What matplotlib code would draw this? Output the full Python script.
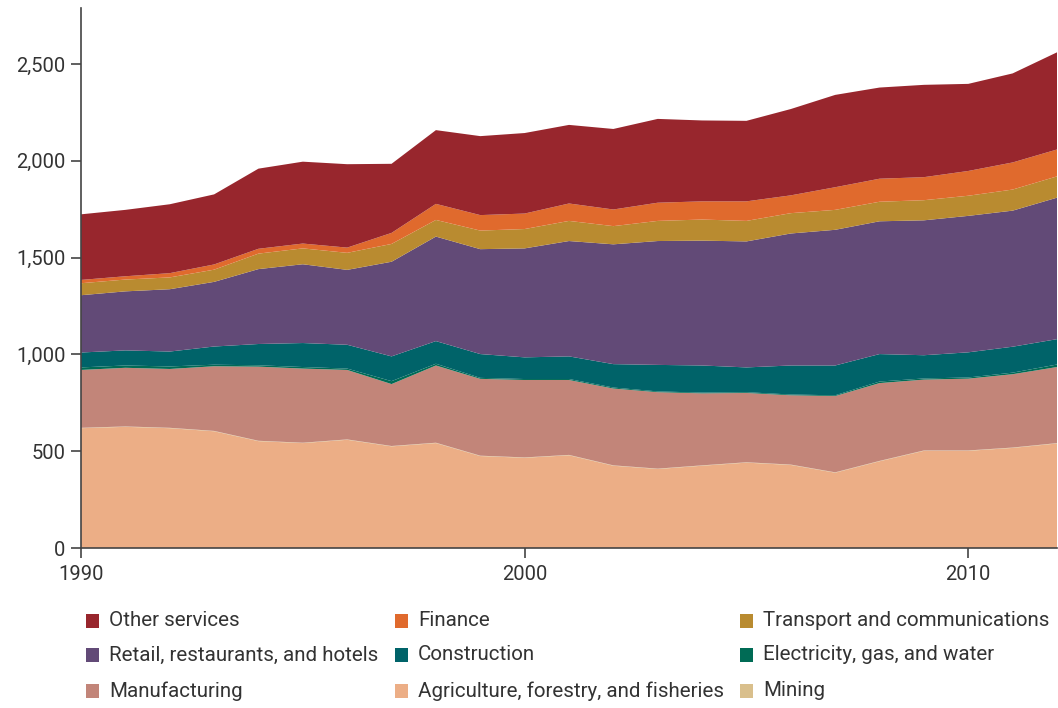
import matplotlib
matplotlib.use("Agg")
import matplotlib.pyplot as plt
from matplotlib.patches import Rectangle

years = list(range(1990, 2013))

agriculture = [619, 626, 619, 603, 552, 542, 559, 525, 542, 475, 466, 479,
               425, 408, 425, 441, 429, 389, 448, 502, 502, 517, 540]
mining = [2] * 23
manufacturing = [299, 303, 304, 334, 383, 383, 359, 320, 399, 397, 400, 387,
                 397, 395, 372, 358, 358, 394, 402, 366, 371, 379, 393]
electricity = [13, 12, 13, 8, 7, 8, 7, 15, 9, 5, 5, 5,
               5, 4, 4, 4, 4, 4, 8, 6, 6, 8, 13]
construction = [77, 78, 77, 94, 110, 124, 123, 128, 117, 123, 112, 117,
                121, 137, 140, 128, 150, 154, 142, 120, 130, 134, 131]
retail = [296, 305, 322, 334, 387, 407, 387, 489, 540, 542, 563, 596,
          619, 640, 645, 651, 682, 701, 686, 697, 705, 703, 731]
transport = [62, 61, 61, 63, 80, 82, 88, 92, 86, 96, 100, 104,
             94, 104, 109, 106, 105, 103, 101, 104, 104, 109, 110]
finance = [17, 17, 22, 27, 25, 25, 27, 57, 83, 80, 80, 90,
           86, 94, 94, 101, 92, 117, 119, 119, 128, 140, 139]
other_services = [339, 343, 356, 362, 414, 423, 431, 357, 381, 408, 416, 406,
                  416, 433, 418, 416, 446, 477, 471, 477, 450, 460, 502]

series = [agriculture, mining, manufacturing, electricity, construction,
          retail, transport, finance, other_services]
names = ["Agriculture, forestry, and fisheries", "Mining", "Manufacturing",
         "Electricity, gas, and water", "Construction",
         "Retail, restaurants, and hotels", "Transport and communications",
         "Finance", "Other services"]
colors = ["#ECAE86", "#D9BF8C", "#C28579", "#006B55", "#006369",
          "#624A77", "#B98B30", "#E06A2D", "#98262D"]
color_of = dict(zip(names, colors))

yticks = [0, 500, 1000, 1500, 2000, 2500]
ytick_labels = ["0", "500", "1,000", "1,500", "2,000", "2,500"]
xticks = [1990, 2000, 2010]

plt.rcParams["font.family"] = ["Roboto", "DejaVu Sans"]

fig = plt.figure(figsize=(10.58, 7.08), dpi=100)
ax = fig.add_axes([81 / 1058, 1 - 548 / 708, (1057 - 81) / 1058, (548 - 8) / 708])

ax.stackplot(years, *series, colors=colors, linewidth=0)

ax.set_xlim(1990, 2012)
ax.set_ylim(0, 2790)
ax.set_yticks(yticks)
ax.set_yticklabels(ytick_labels)
ax.set_xticks(xticks)
ax.set_xticklabels([str(x) for x in xticks])

for side in ("top", "right"):
    ax.spines[side].set_visible(False)
for side in ("left", "bottom"):
    ax.spines[side].set_color("#444444")
    ax.spines[side].set_linewidth(1.2)
ax.tick_params(axis="both", colors="#444444", labelcolor="#333333",
               labelsize=14.5, length=7, width=1.2, direction="out")
ax.tick_params(axis="y", pad=4)
ax.tick_params(axis="x", pad=5)

# Legend laid out in three rows of three
legend_rows = [
    ["Other services", "Finance", "Transport and communications"],
    ["Retail, restaurants, and hotels", "Construction", "Electricity, gas, and water"],
    ["Manufacturing", "Agriculture, forestry, and fisheries", "Mining"],
]
col_x = [86, 395, 740]
row_y = [621, 655, 691]
W, H = 1058, 708
for r, row in enumerate(legend_rows):
    for c, name in enumerate(row):
        x0 = col_x[c]
        yc = row_y[r]
        fig.patches.append(Rectangle((x0 / W, 1 - (yc + 7) / H), 13 / W, 14 / H,
                                     transform=fig.transFigure,
                                     facecolor=color_of[name], edgecolor="none"))
        fig.text((x0 + 23) / W, 1 - yc / H, name, ha="left", va="center",
                 fontsize=14.8, color="#333333")

fig.savefig("out.png", dpi=100)
